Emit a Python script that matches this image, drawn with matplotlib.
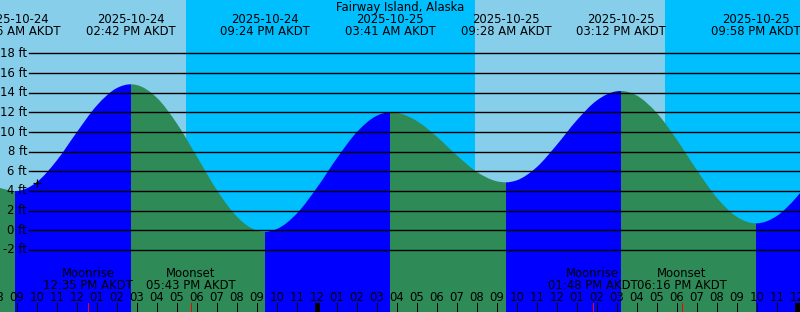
import matplotlib
matplotlib.use("Agg")
import matplotlib.pyplot as plt
from matplotlib.path import Path
from matplotlib.patches import PathPatch
from matplotlib.transforms import blended_transform_factory

# ---------------- data ----------------
title = "Fairway Island, Alaska"
tz = "AKDT"

# tide extremes (hours since 2025-10-24 00:00)
tide_dates = ["2025-10-24", "2025-10-24", "2025-10-24", "2025-10-25", "2025-10-25", "2025-10-25", "2025-10-25"]
tide_labels = ["08:56 AM", "02:42 PM", "09:24 PM", "03:41 AM", "09:28 AM", "03:12 PM", "09:58 PM"]
tide_hours = [8 + 56/60, 14 + 42/60, 21 + 24/60, 24 + 3 + 41/60, 24 + 9 + 28/60, 24 + 15 + 12/60, 24 + 21 + 58/60]
tide_ft = [4.0, 14.85, -0.15, 12.0, 4.88, 14.17, 0.71]

# tide height read at each whole hour
curve_hours = list(range(8, 50))
curve_ft = [4.38, 4.00, 4.89, 7.09, 9.96, 12.68, 14.46, 14.78, 13.50, 10.89,
            7.53, 4.12, 1.41, -0.02, 0.12, 1.69, 4.30, 7.30, 9.97, 11.65,
            11.95, 11.13, 9.53, 7.63, 5.95, 4.99, 5.08, 6.42, 8.68, 11.18,
            13.20, 14.14, 13.71, 11.95, 9.24, 6.15, 3.33, 1.38, 0.71, 1.45,
            3.38, 6.05]

# sun: sunset, sunrise, sunset
sun_hours = [17 + 28/60, 24 + 7 + 55/60, 24 + 17 + 25/60]

# moon events
moon_names = ["Moonrise", "Moonset", "Moonrise", "Moonset"]
moon_labels = ["12:35 PM", "05:43 PM", "01:48 PM", "06:16 PM"]
moon_hours = [12 + 35/60, 17 + 43/60, 24 + 13 + 48/60, 24 + 18 + 16/60]

# current time marker
now_hour = 10.0
now_ft = 4.84

ft_levels = [-2, 0, 2, 4, 6, 8, 10, 12, 14, 16, 18]

# ---------------- style ----------------
DAY = "#87CEEB"
NIGHT = "#00BFFF"
RISE = "#0000FF"
FALL = "#2E8B57"
FS = 8.4
W, H = 800, 312

fig = plt.figure(figsize=(W / 100, H / 100), dpi=100)
ax = fig.add_axes([0, 0, 1, 1])
ax.set_axis_off()

px_per_hour = 20.0
x0_hour = 9 - 16.7 / px_per_hour
ax.set_xlim(x0_hour, x0_hour + W / px_per_hour)
y_zero_px, px_per_ft = 230.3, 9.83
ax.set_ylim((y_zero_px - H) / px_per_ft, y_zero_px / px_per_ft)
ybot = (y_zero_px - H) / px_per_ft - 1

tr = blended_transform_factory(ax.transData, ax.transAxes)
def fy(p):  # pixel from top -> axes fraction
    return 1 - p / H

# day / night background
xmin, xmax = ax.get_xlim()
edges = [xmin - 1] + sun_hours + [xmax + 1]
for i in range(len(edges) - 1):
    ax.axvspan(edges[i], edges[i + 1], color=DAY if i % 2 == 0 else NIGHT, lw=0, zorder=0)

# merged curve points
pts = sorted(list(zip(curve_hours, curve_ft)) + list(zip(tide_hours, tide_ft)))
ts = [p[0] for p in pts]
hs = [p[1] for p in pts]
ext = set(tide_hours)

# smooth path through the read points (horizontal tangent at extremes)
n = len(ts)
slopes = []
for i in range(n):
    if ts[i] in ext:
        slopes.append(0.0)
    elif i == 0:
        slopes.append((hs[1] - hs[0]) / (ts[1] - ts[0]))
    elif i == n - 1:
        slopes.append((hs[-1] - hs[-2]) / (ts[-1] - ts[-2]))
    else:
        d0 = ts[i] - ts[i - 1]
        d1 = ts[i + 1] - ts[i]
        s0 = (hs[i] - hs[i - 1]) / d0
        s1 = (hs[i + 1] - hs[i]) / d1
        slopes.append((s1 * d0 + s0 * d1) / (d0 + d1))

verts = [(ts[0], ybot), (ts[0], hs[0])]
codes = [Path.MOVETO, Path.LINETO]
for i in range(n - 1):
    dt = ts[i + 1] - ts[i]
    verts += [(ts[i] + dt / 3, hs[i] + slopes[i] * dt / 3),
              (ts[i + 1] - dt / 3, hs[i + 1] - slopes[i + 1] * dt / 3),
              (ts[i + 1], hs[i + 1])]
    codes += [Path.CURVE4] * 3
verts += [(ts[-1], ybot), (ts[0], ybot)]
codes += [Path.LINETO, Path.CLOSEPOLY]
water = PathPatch(Path(verts, codes), transform=ax.transData, fill=False, lw=0)
ax.add_patch(water)
water.set_visible(False)

bounds = [ts[0]] + tide_hours + [ts[-1]]
first_is_fall = tide_ft[0] < tide_ft[1]
for i in range(len(bounds) - 1):
    falling = (i % 2 == 0) == first_is_fall
    span = ax.axvspan(bounds[i], bounds[i + 1], color=FALL if falling else RISE,
                      lw=0, antialiased=False, zorder=1)
    span.set_clip_path(water)

# horizontal level lines and labels
for lv in ft_levels:
    ax.axhline(lv, xmin=29 / W, xmax=1, color="black", lw=1.0, zorder=2)
    ax.text(27 / W, lv, f"{lv} ft", transform=blended_transform_factory(ax.transAxes, ax.transData),
            ha="right", va="center", fontsize=FS, zorder=3)

# current-time marker
ax.plot([now_hour], [now_ft], marker="+", ms=6, mew=0.9, color="black", zorder=4)

# title and tide labels
ax.text(0.5, fy(7.3), title, transform=ax.transAxes, ha="center", va="center", fontsize=FS, zorder=5)
for d, lab, t in zip(tide_dates, tide_labels, tide_hours):
    ax.text(t, fy(19.3), d, transform=tr, ha="center", va="center", fontsize=FS, zorder=5)
    ax.text(t, fy(31.7), f"{lab} {tz}", transform=tr, ha="center", va="center", fontsize=FS, zorder=5)

# moon labels
for nm, lab, t in zip(moon_names, moon_labels, moon_hours):
    ax.text(t, fy(273.3), nm, transform=tr, ha="center", va="center", fontsize=FS, zorder=5)
    ax.text(t, fy(285.7), f"{lab} {tz}", transform=tr, ha="center", va="center", fontsize=FS, zorder=5)

# hour ticks
for hr in range(int(xmin), int(xmax) + 2):
    h12 = hr % 12
    h12 = 12 if h12 == 0 else h12
    ax.text(hr, fy(297.7), f"{h12:02d}", transform=tr, ha="center", va="center", fontsize=FS, zorder=5)
    midnight = hr % 24 == 0
    ax.plot([hr, hr], [fy(303), fy(313)], transform=tr, color="black",
            lw=2.2 if midnight else 0.72, solid_capstyle="butt", antialiased=False, zorder=5)
for t in moon_hours:
    ax.plot([t, t], [fy(303), fy(313)], transform=tr, color="red", lw=0.72,
            solid_capstyle="butt", antialiased=False, zorder=6)

fig.savefig("out.png", dpi=100)
